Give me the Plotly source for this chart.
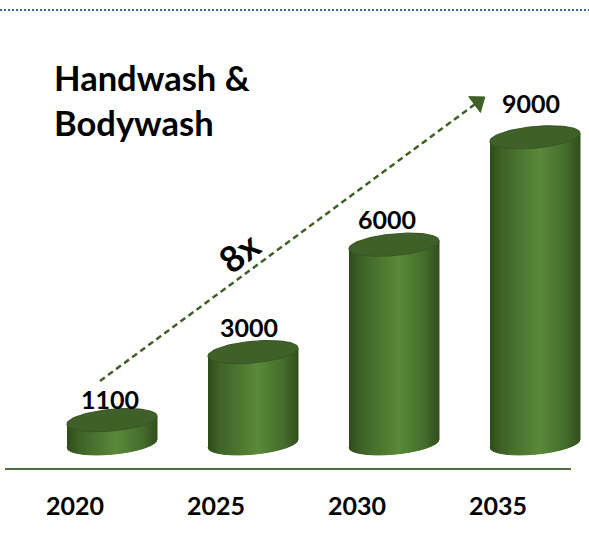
import numpy as np
import plotly.graph_objects as go

# data
years = ["2020", "2025", "2030", "2035"]
values = [1100, 3000, 6000, 9000]
title_lines = ["Handwash &", "Bodywash"]
growth_label = "8x"

# plot area, everything else is placed through the axes
W, H = 589, 548
BOTTOM = 469
PX_PER_CAT = 141
PX_PER_UNIT = 0.0358
ZERO_PX = 459.5
FIRST_TICK_PX = 75

# cylinder look
CYL_OFFSET = 37 / PX_PER_CAT
CYL_HALF = 45 / PX_PER_CAT
BASE_VALUE = 450
ELL_B = 10.8 / PX_PER_UNIT
ELL_TILT = 4 / PX_PER_UNIT
N_SLICES = 90
stops = [(0.0, (47, 76, 28)), (0.12, (62, 98, 40)), (0.55, (91, 138, 58)),
         (0.85, (68, 108, 44)), (1.0, (50, 80, 30))]

# arrow ends and label nudges
arrow_x = [(100 - FIRST_TICK_PX) / PX_PER_CAT, (478 - FIRST_TICK_PX) / PX_PER_CAT]
arrow_y = [(ZERO_PX - 381) / PX_PER_UNIT, (ZERO_PX - 102) / PX_PER_UNIT]
label_dx = [-2, -4, -7, -4]
label_dy = [21, 25, 26, 34]


def shade(t):
    for (t0, c0), (t1, c1) in zip(stops, stops[1:]):
        if t <= t1:
            f = (t - t0) / (t1 - t0)
            return "rgb(%d,%d,%d)" % tuple(a + (b - a) * f for a, b in zip(c0, c1))
    return "rgb(%d,%d,%d)" % stops[-1][1]


def ellipse_y(u, centre, sign):
    # right end of the ellipse sits higher than the left end
    return centre + ELL_TILT * u + sign * ELL_B * np.sqrt(np.clip(1 - u * u, 0, 1))


def paper_y(py):
    # paper coordinates run over the plot area only
    return 1 - py / BOTTOM


fig = go.Figure()

# body of the cylinders, one trace per shade of the gradient
edges = np.linspace(-1, 1, N_SLICES + 1)
for i in range(N_SLICES):
    xs, ys = [], []
    u = np.linspace(edges[i], edges[i + 1], 4)
    for k, v in enumerate(values):
        cx = k + CYL_OFFSET
        xs += list(cx + u * CYL_HALF) + list(cx + u[::-1] * CYL_HALF) + [None]
        ys += list(ellipse_y(u, v, 0)) + list(ellipse_y(u[::-1], BASE_VALUE, -1)) + [None]
    fig.add_trace(go.Scatter(x=xs, y=ys, mode="lines", fill="toself",
                             fillcolor=shade((i + 0.5) / N_SLICES),
                             line=dict(color=shade((i + 0.5) / N_SLICES), width=1),
                             hoverinfo="skip", showlegend=False))

# top of the cylinders
t = np.linspace(0, 2 * np.pi, 90)
for k, v in enumerate(values):
    cx = k + CYL_OFFSET
    fig.add_trace(go.Scatter(x=cx + np.cos(t) * CYL_HALF,
                             y=v + ELL_TILT * np.cos(t) + ELL_B * np.sin(t),
                             mode="lines", fill="toself", fillcolor="#40602a",
                             line=dict(color="#3a5825", width=1.2),
                             hoverinfo="skip", showlegend=False))

# growth arrow
fig.add_trace(go.Scatter(x=arrow_x, y=arrow_y, mode="lines+markers",
                         line=dict(color="#3f6026", width=2.5, dash="6px,4px"),
                         marker=dict(symbol="triangle-up", angleref="previous",
                                     size=[0, 17], color="#3f6026", opacity=1,
                                     line=dict(color="#3f6026", width=1)),
                         hoverinfo="skip", showlegend=False))

for k, v in enumerate(values):
    fig.add_annotation(x=k + CYL_OFFSET, y=v, text=str(v), showarrow=False,
                       xshift=label_dx[k], yshift=label_dy[k], yanchor="middle",
                       font=dict(family="Lato", size=25, color="black", weight="bold"))

fig.add_annotation(x=239 / W, y=paper_y(252), xref="paper", yref="paper", text=growth_label,
                   textangle=-38, showarrow=False, yanchor="middle",
                   font=dict(family="Lato", size=36, color="black", weight="bold"))

for line, py in zip(title_lines, [78, 122]):
    fig.add_annotation(x=52 / W, y=paper_y(py), xref="paper", yref="paper", text=line,
                       xanchor="left", yanchor="middle", showarrow=False,
                       font=dict(family="Lato", size=34.5, color="black", weight="bold"))

# baseline and dotted rule on top
fig.add_shape(type="line", xref="paper", yref="paper", x0=5 / W, x1=571 / W, y0=0, y1=0,
              line=dict(color="#4f7034", width=2))
fig.add_shape(type="line", xref="paper", yref="paper", x0=0, x1=1, y0=paper_y(10), y1=paper_y(10),
              line=dict(color="#3f6797", width=2, dash="2px,2px"))

fig.update_layout(
    width=W, height=H, margin=dict(l=0, r=0, t=0, b=H - BOTTOM),
    paper_bgcolor="white", plot_bgcolor="white",
    xaxis=dict(range=[-FIRST_TICK_PX / PX_PER_CAT, (W - FIRST_TICK_PX) / PX_PER_CAT],
               tickvals=list(range(len(years))), ticktext=years, ticks="outside",
               ticklen=15, tickcolor="rgba(0,0,0,0)", showgrid=False, zeroline=False,
               tickangle=0,
               tickfont=dict(family="Lato", size=25, color="black", weight="bold")),
    yaxis=dict(range=[(ZERO_PX - BOTTOM) / PX_PER_UNIT, ZERO_PX / PX_PER_UNIT],
               visible=False),
)

# page margin off so the figure sits at the window corner
fig.write_html("out.html", config=dict(displayModeBar=False),
               post_script="document.body.style.margin='0';")
